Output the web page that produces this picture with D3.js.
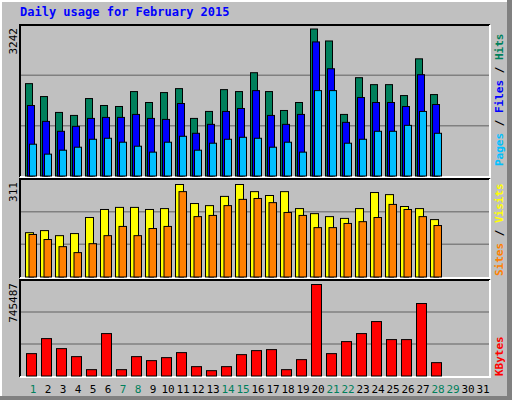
<!DOCTYPE html>
<html><head><meta charset="utf-8">
<script src="https://cdn.jsdelivr.net/npm/d3@7"></script>
<style>body{margin:0;background:#fff}svg text{font-family:"DejaVu Sans Mono",monospace}</style>
</head><body>
<svg id="c" width="512" height="400"></svg>
<script>
const days = d3.range(1, 32);
const weekend = [1,7,8,14,15,21,22,28,29];
const hits  = [2037,1752,1402,1336,1708,1555,1533,1862,1621,1840,1927,1270,1424,1905,1862,2278,1862,1445,1621,3242,2978,1358,2168,2015,2015,1774,2584,1796];
const files = [1555,1205,986,1095,1270,1292,1292,1358,1270,1248,1599,942,1139,1424,1489,1883,1336,1139,1358,2957,2365,1183,1730,1621,1621,1533,2234,1577];
const pages = [701,482,569,635,810,832,745,657,526,745,876,569,723,810,854,832,635,745,526,1883,1883,723,810,986,986,1117,1424,942];
const visits= [149,156,139,146,200,227,234,234,227,230,311,247,240,271,311,287,274,287,230,213,203,197,230,284,277,237,230,193];
const sites = [143,126,102,82,112,139,170,139,163,170,287,203,207,240,261,264,250,217,207,166,166,180,186,200,244,227,203,173];
const kbytes= [182300,304700,223100,157800,51700,345600,51700,157800,125200,149700,190500,76200,43500,76200,174100,206800,215000,51700,133300,745487,182300,280300,345600,443500,296600,296600,590500,108800];

const svg = d3.select("#c");
// frame
svg.append("rect").attr("x",0).attr("y",0).attr("width",512).attr("height",400).attr("fill","#c0c0c0");
svg.append("path").attr("d","M1,399V1H510").attr("stroke","#fff").attr("fill","none").attr("stroke-width",2);
svg.append("rect").attr("x",507).attr("y",0).attr("width",5).attr("height",400).attr("fill","#808080");
svg.append("rect").attr("x",0).attr("y",396).attr("width",512).attr("height",4).attr("fill","#808080");
svg.append("text").attr("x",20).attr("y",16).attr("fill","#0000ff").attr("font-weight","bold").attr("font-size",12).text("Daily usage for February 2015");

const x = d3.scaleLinear().domain([1,32]).range([25,490]);
const L=20,R=490;
function panel(top,bot,max,label){
  svg.append("rect").attr("x",L).attr("y",top).attr("width",R-L).attr("height",bot-top).attr("fill","#c0c0c0");
  svg.append("path").attr("d",`M${L},${bot+1}V${top}H${R}`).attr("stroke","#000").attr("fill","none").attr("stroke-width",2);
  svg.append("path").attr("d",`M${R},${top}V${bot+1}H${L}`).attr("stroke","#fff").attr("fill","none").attr("stroke-width",2);
  const h=bot-top;
  [1,2].forEach(i=>svg.append("line").attr("x1",L+1).attr("x2",R-1).attr("y1",bot-h*i/3).attr("y2",bot-h*i/3).attr("stroke","#808080").attr("stroke-width",1.5));
  svg.append("text").attr("transform",`translate(17,${top+3}) rotate(-90)`).attr("text-anchor","end").attr("font-size",11).attr("fill","#000").text(label);
}
function bars(data,y,dx,w,color){
  svg.append("g").selectAll("rect").data(data).join("rect")
    .attr("x",(d,i)=>x(i+1)+dx).attr("y",d=>y(d)).attr("width",w).attr("height",d=>y(0)-y(d))
    .attr("fill",color).attr("stroke","#000").attr("stroke-width",1);
}
// top
panel(25,176,3242,"3242");
const y1=d3.scaleLinear().domain([0,3242]).range([176,29]);
bars(hits,y1,0.5,7,"#00805c");bars(files,y1,2.5,7,"#0000ff");bars(pages,y1,4.5,7,"#00c0ff");
// middle
panel(179,277,311,"311");
const y2=d3.scaleLinear().domain([0,311]).range([277,184.5]);
bars(visits,y2,0.5,8,"#ffff00");bars(sites,y2,4,7.5,"#ff8000");
// bottom
panel(280,376,745487,"745487");
const y3=d3.scaleLinear().domain([0,745487]).range([376,284.5]);
bars(kbytes,y3,1.5,10,"#ff0000");

// day labels
svg.append("g").selectAll("text").data(days).join("text")
  .attr("x",d=>x(d)+8).attr("y",393).attr("text-anchor","middle").attr("font-size",11)
  .attr("fill",d=>weekend.includes(d)?"#00805c":"#000").text(d=>d);

// right labels
function rlabel(yBase,parts){
  const t=svg.append("text").attr("transform",`translate(503,${yBase}) rotate(-90)`).attr("font-size",11).attr("font-weight","bold");
  parts.forEach(p=>t.append("tspan").attr("fill",p[1]).text(p[0]));
}
rlabel(166,[["Pages","#00c0ff"],[" / ","#000"],["Files","#0000ff"],[" / ","#000"],["Hits","#00805c"]]);
rlabel(276,[["Sites","#ff8000"],[" / ","#000"],["Visits","#ffff00"]]);
rlabel(376,[["KBytes","#ff0000"]]);
</script>
</body></html>
